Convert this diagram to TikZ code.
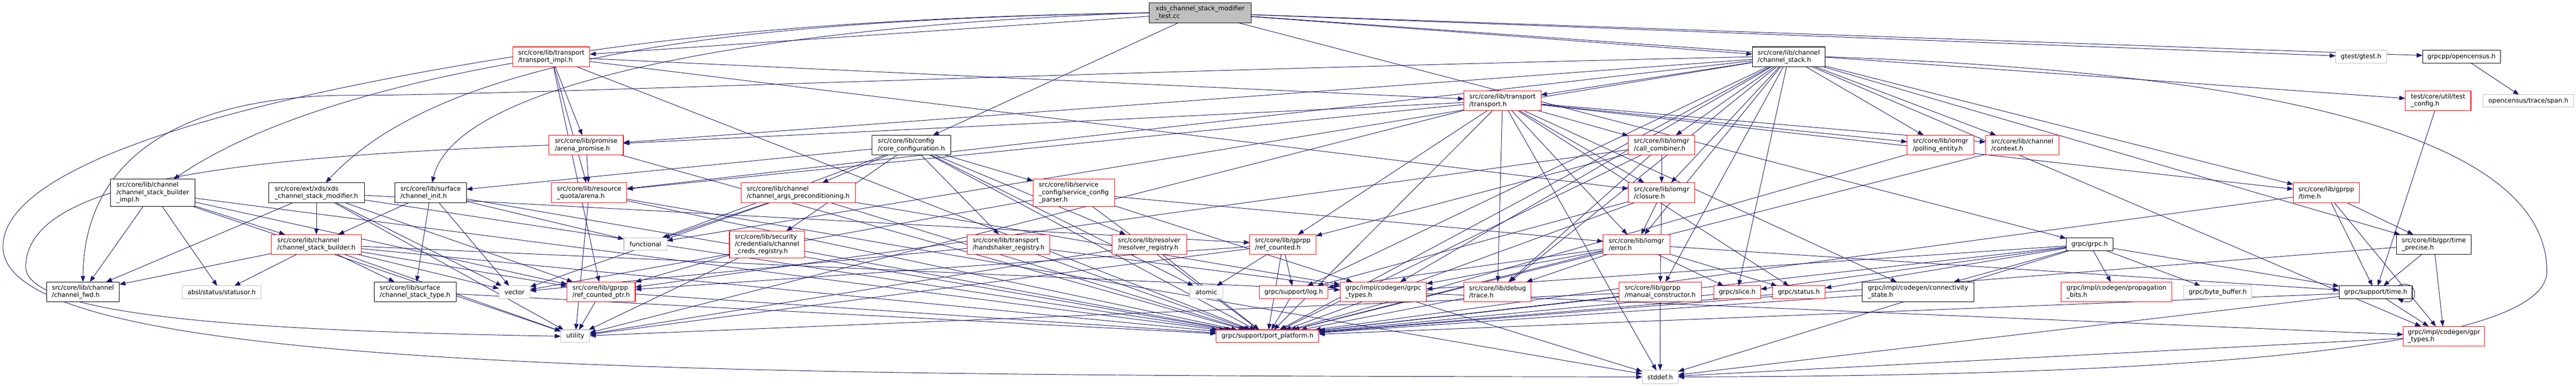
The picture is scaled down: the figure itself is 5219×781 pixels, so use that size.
\documentclass[tikz,border=0pt]{standalone}
\usepackage{fontspec}
\setmainfont{DejaVu Sans}
\usetikzlibrary{arrows.meta}
\definecolor{edgeblue}{HTML}{191970}
\definecolor{boxgray}{HTML}{BFBFBF}
\definecolor{boxred}{HTML}{FF0000}
\pgfdeclarelayer{edgelayer}
\pgfsetlayers{edgelayer,main}
\newcommand{\mkbox}[7]{\node[#1, minimum width={(#5-#3)*1pt}, minimum height={(#6-#4)*1pt}] (#2) at ({(#3+#5)/2},{(#4+#6)/2}) {#7};}
\tikzset{
  nbase/.style={rectangle, inner sep=0pt, outer sep=0pt, align=left, font=\fontsize{12.85}{15}\selectfont, line width=1.1pt, fill=white},
  rbox/.style={nbase, draw=boxred},
  kbox/.style={nbase, draw=black},
  gbox/.style={nbase, draw=boxgray},
  topbox/.style={nbase, draw=black, fill=boxgray},
  dep/.style={draw=edgeblue, line width=1pt, -{Triangle[length=12pt,width=9pt]}},
}
\begin{document}
\begin{tikzpicture}[x=1pt,y=-1pt]
\useasboundingbox (0,0) rectangle (5219,781);
% rank 0
\mkbox{topbox}{T}{2328}{6}{2535}{46}{xds\_channel\_stack\_modifier\\\_test.cc}
% rank 1
\mkbox{rbox}{TI}{1039}{95}{1195}{135}{src/core/lib/transport\\/transport\_impl.h}
\mkbox{kbox}{CS}{3550}{95}{3698}{135}{src/core/lib/channel\\/channel\_stack.h}
\mkbox{gbox}{GT}{4732}{102}{4835}{128}{gtest/gtest.h}
\mkbox{kbox}{OC}{4908}{102}{5066}{128}{grpcpp/opencensus.h}
% rank 2
\mkbox{rbox}{TR}{2966}{184}{3122}{224}{src/core/lib/transport\\/transport.h}
\mkbox{rbox}{TC}{4873}{184}{5006}{224}{test/core/util/test\\\_config.h}
\mkbox{gbox}{SP}{5031}{192}{5214}{217}{opencensus/trace/span.h}
% rank 3
\mkbox{rbox}{AP}{1112}{274}{1263}{314}{src/core/lib/promise\\/arena\_promise.h}
\mkbox{kbox}{CC}{1767}{274}{1926}{314}{src/core/lib/config\\/core\_configuration.h}
\mkbox{rbox}{CB}{3299}{274}{3434}{314}{src/core/lib/iomgr\\/call\_combiner.h}
\mkbox{rbox}{PE}{3864}{274}{3999}{314}{src/core/lib/iomgr\\/polling\_entity.h}
\mkbox{rbox}{CX}{4023}{274}{4171}{314}{src/core/lib/channel\\/context.h}
% rank 4
\mkbox{kbox}{CSBI}{224}{363}{395}{418}{src/core/lib/channel\\/channel\_stack\_builder\\\_impl.h}
\mkbox{kbox}{XM}{544}{370}{738}{411}{src/core/ext/xds/xds\\\_channel\_stack\_modifier.h}
\mkbox{kbox}{CI}{800}{370}{945}{411}{src/core/lib/surface\\/channel\_init.h}
\mkbox{rbox}{AR}{1117}{370}{1270}{411}{src/core/lib/resource\\\_quota/arena.h}
\mkbox{rbox}{CAP}{1501}{370}{1733}{411}{src/core/lib/channel\\/channel\_args\_preconditioning.h}
\mkbox{rbox}{SCP}{2093}{363}{2258}{418}{src/core/lib/service\\\_config/service\_config\\\_parser.h}
\mkbox{rbox}{CL}{3299}{370}{3434}{411}{src/core/lib/iomgr\\/closure.h}
\mkbox{rbox}{TM}{4646}{370}{4780}{411}{src/core/lib/gprpp\\/time.h}
% rank 5
\mkbox{rbox}{CSB}{550}{475}{732}{515}{src/core/lib/channel\\/channel\_stack\_builder.h}
\mkbox{gbox}{FN}{1264}{482}{1351}{507}{functional}
\mkbox{rbox}{CCR}{1478}{468}{1630}{522}{src/core/lib/security\\/credentials/channel\\\_creds\_registry.h}
\mkbox{rbox}{HR}{1960}{475}{2127}{515}{src/core/lib/transport\\/handshaker\_registry.h}
\mkbox{rbox}{RR}{2253}{475}{2404}{515}{src/core/lib/resolver\\/resolver\_registry.h}
\mkbox{rbox}{RC}{2532}{475}{2666}{515}{src/core/lib/gprpp\\/ref\_counted.h}
\mkbox{rbox}{ER}{3248}{475}{3383}{515}{src/core/lib/iomgr\\/error.h}
\mkbox{kbox}{GR}{4186}{482}{4281}{508}{grpc/grpc.h}
\mkbox{kbox}{TP}{4855}{475}{5007}{515}{src/core/lib/gpr/time\\\_precise.h}
% rank 6
\mkbox{kbox}{CF}{94}{571}{242}{611}{src/core/lib/channel\\/channel\_fwd.h}
\mkbox{gbox}{SO}{369}{579}{529}{605}{absl/status/statusor.h}
\mkbox{kbox}{CST}{758}{571}{924}{611}{src/core/lib/surface\\/channel\_stack\_type.h}
\mkbox{gbox}{VE}{1011}{579}{1074}{605}{vector}
\mkbox{rbox}{RCP}{1149}{571}{1287}{611}{src/core/lib/gprpp\\/ref\_counted\_ptr.h}
\mkbox{gbox}{AT}{2411}{579}{2477}{605}{atomic}
\mkbox{rbox}{LG}{2552}{579}{2690}{605}{grpc/support/log.h}
\mkbox{rbox}{GTY}{2715}{571}{2890}{611}{grpc/impl/codegen/grpc\\\_types.h}
\mkbox{rbox}{TRC}{2966}{571}{3102}{611}{src/core/lib/debug\\/trace.h}
\mkbox{rbox}{MC}{3280}{571}{3447}{611}{src/core/lib/gprpp\\/manual\_constructor.h}
\mkbox{rbox}{SL}{3472}{579}{3567}{605}{grpc/slice.h}
\mkbox{rbox}{ST}{3591}{579}{3698}{605}{grpc/status.h}
\mkbox{kbox}{CON}{3773}{571}{3999}{611}{grpc/impl/codegen/connectivity\\\_state.h}
\mkbox{rbox}{PB}{4176}{571}{4400}{611}{grpc/impl/codegen/propagation\\\_bits.h}
\mkbox{gbox}{BB}{4424}{579}{4562}{605}{grpc/byte\_buffer.h}
\mkbox{kbox}{STM}{4739}{579}{4887}{605}{grpc/support/time.h}
% rank 7
\mkbox{gbox}{UT}{1136}{668}{1195}{694}{utility}
\mkbox{rbox}{PP}{2464}{668}{2672}{694}{grpc/support/port\_platform.h}
\mkbox{rbox}{GPT}{4869}{661}{5034}{701}{grpc/impl/codegen/gpr\\\_types.h}
% rank 8
\mkbox{gbox}{SD}{3327}{750}{3400}{777}{stddef.h}

\begin{pgfonlayer}{edgelayer}
\foreach \s/\t in {T/TI,T/CC,T/CS,T/GT,T/OC,T/TC,T/GR,
  OC/SP,TC/STM,
  TI/AP,TI/AR,TI/TR,TI/PP,TI/RCP,TI/CL,
  CS/TR,CS/AP,CS/AR,CS/FN,CS/CB,CS/CL,CS/ER,CS/PE,CS/CX,CS/TRC,CS/MC,CS/TM,CS/TP,CS/GTY,CS/SL,CS/LG,CS/PP,CS/GPT,
  TR/AP,TR/AR,TR/CB,TR/CL,TR/ER,TR/PE,TR/CX,TR/RC,TR/TRC,TR/ST,TR/CON,TR/TM,TR/UT,TR/SD,TR/PP,
  AP/AR,AP/PP,
  CC/CI,CC/CAP,CC/SCP,CC/CCR,CC/HR,CC/RR,CC/FN,CC/AT,CC/PP,
  CB/CL,CB/RC,CB/RCP,CB/TRC,CB/PP,
  PE/PP,CX/PP,
  CSBI/CSB,CSBI/CF,CSBI/SO,CSBI/RCP,CSBI/UT,CSBI/PP,
  XM/CSB,XM/CF,XM/VE,XM/RCP,XM/RC,XM/UT,XM/PP,
  CI/CSB,CI/CST,CI/VE,CI/FN,CI/PP,
  AR/UT,AR/PP,AR/SD,
  CAP/FN,CAP/VE,CAP/GTY,CAP/PP,
  SCP/VE,SCP/GTY,SCP/ER,SCP/PP,
  CL/ER,CL/LG,CL/MC,CL/PP,
  TM/STM,TM/TP,TM/GPT,TM/PP,
  CSB/CF,CSB/SO,CSB/CST,CSB/VE,CSB/RCP,CSB/GTY,CSB/UT,CSB/PP,
  CCR/RCP,CCR/UT,CCR/PP,
  HR/VE,HR/GTY,HR/PP,
  RR/UT,RR/PP,
  RC/AT,RC/LG,RC/PP,RC/RCP,RC/UT,
  ER/GTY,ER/TRC,ER/SL,ER/ST,ER/LG,ER/PP,ER/STM,
  GR/SL,GR/ST,GR/CON,GR/PB,GR/BB,GR/STM,GR/GTY,GR/PP,GR/SD,
  TP/STM,TP/GPT,TP/PP,
  RCP/UT,RCP/PP,
  GTY/SD,GTY/GPT,
  TRC/PP,MC/SD,MC/PP,MC/UT,SL/PP,ST/PP,LG/PP,CON/PP,CST/PP,
  STM/GPT,STM/PP,STM/SD,GPT/SD}
  { \draw[dep] (\s) -- (\t); }
% routed edges
\draw[dep] (T.west) .. controls (1300,40) and (650,160) .. ([xshift=42pt]CSBI.north);
\draw[dep] (T.west) .. controls (1500,40) and (900,110) .. ([xshift=19pt]XM.north);
\draw[dep] (T.west) .. controls (1700,45) and (930,140) .. ([xshift=3pt]CI.north);
\draw[dep] (TI.west) .. controls (500,200) and (6,330) .. (6,500) .. controls (6,760) and (1500,760) .. (SD.west);
\draw[dep] (AP.west) .. controls (400,320) and (55,380) .. (52,540) .. controls (52,640) and (500,670) .. (UT.west);
\draw[dep] (CS.west) .. controls (2000,150) and (1000,195) .. (690,193) .. controls (350,200) and (170,330) .. (CF.north);
\draw[dep] (CS.east) .. controls (4700,150) and (5160,300) .. (5160,550) .. controls (5160,745) and (4000,762) .. (SD.east);
\draw[dep] ([xshift=-30pt]STM.north east) .. controls +(45,-18) and +(45,18) .. ([xshift=-30pt]STM.south east);
\end{pgfonlayer}
\end{tikzpicture}
\end{document}
